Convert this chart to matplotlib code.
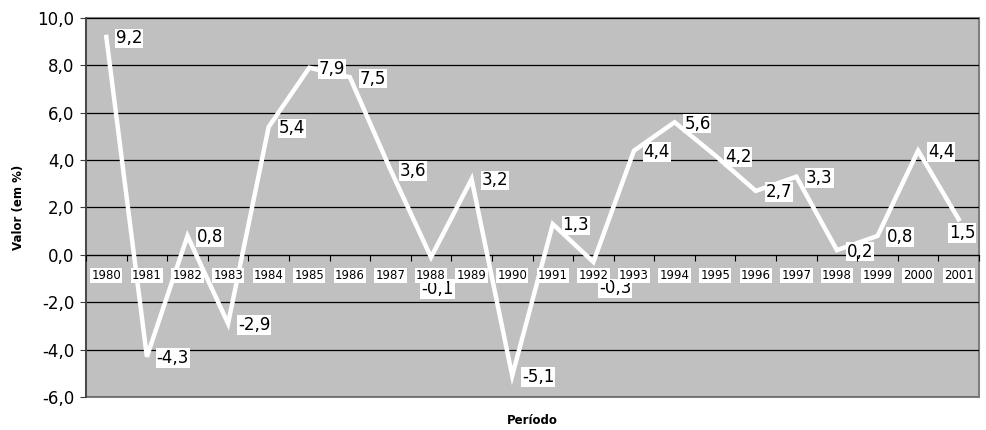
import numpy as np
import matplotlib.pyplot as plt
from matplotlib.ticker import FuncFormatter, FixedLocator

years = [str(y) for y in range(1980, 2002)]
valores = [9.2, -4.3, 0.8, -2.9, 5.4, 7.9, 7.5, 3.6, -0.1, 3.2, -5.1,
           1.3, -0.3, 4.4, 5.6, 4.2, 2.7, 3.3, 0.2, 0.8, 4.4, 1.5]

plt.rcParams['font.family'] = ['DejaVu Sans']

fig = plt.figure(figsize=(9.87, 4.30), dpi=100)
ax = fig.add_axes([86 / 987, 1 - 397 / 430, (979 - 86) / 987, (397 - 18) / 430])
ax.set_facecolor('#C0C0C0')
ax.patch.set_edgecolor('#808080')
ax.patch.set_linewidth(1.5)

x = np.arange(len(years)) + 0.5
ax.plot(x, valores, color='white', lw=3.2, solid_joinstyle='miter', zorder=3)

# labels sit to the right of each point; a few were nudged in the original
special = {'1988': (-7, -23), '1992': (4, -19), '2001': (-7, -10)}
for yr, xi, v in zip(years, x, valores):
    off = special.get(yr, (7, -1))
    ax.annotate(f'{v:.1f}'.replace('.', ','), (xi, v), xytext=off,
                textcoords='offset points', ha='left', va='center',
                fontsize=12, zorder=4,
                bbox=dict(boxstyle='square,pad=0.05', fc='white', ec='none'))

ax.set_xlim(0, len(years))
ax.set_ylim(-6, 10)
ax.set_yticks(np.arange(-6, 11, 2))
ax.yaxis.set_major_formatter(FuncFormatter(lambda v, p: f'{v:.1f}'.replace('.', ',')))
ax.grid(axis='y', color='black', lw=0.9)
ax.set_axisbelow(True)

# category axis crossing at zero
ax.spines['bottom'].set_position(('data', 0))
ax.spines['bottom'].set_color('black')
ax.spines['bottom'].set_zorder(2)
for s in ['top', 'right']:
    ax.spines[s].set_visible(False)
ax.spines['left'].set_color('#404040')
ax.spines['left'].set_linewidth(1.2)

ax.xaxis.set_major_locator(FixedLocator(np.arange(len(years) + 1)))
ax.xaxis.set_minor_locator(FixedLocator(x))
ax.set_xticklabels([], minor=False)
ax.set_xticklabels(years, minor=True, fontsize=8.5)
ax.tick_params(axis='x', which='major', direction='out', length=4, color='black')
ax.tick_params(axis='x', which='minor', length=0, pad=10)
for lbl in ax.get_xticklabels(minor=True):
    lbl.set_bbox(dict(boxstyle='square,pad=0.1', fc='white', ec='none'))
ax.xaxis.set_zorder(5)
ax.tick_params(axis='y', direction='out', length=4.5, color='#404040',
               labelsize=12, pad=4)

ax.set_ylabel('Valor (em %)', fontsize=8.5, fontweight='bold', labelpad=9)
fig.text((86 + 979) / 2 / 987, 1 - 421 / 430, 'Período', fontsize=8.5,
         fontweight='bold', ha='center', va='center')

fig.savefig('out.png', dpi=100)
